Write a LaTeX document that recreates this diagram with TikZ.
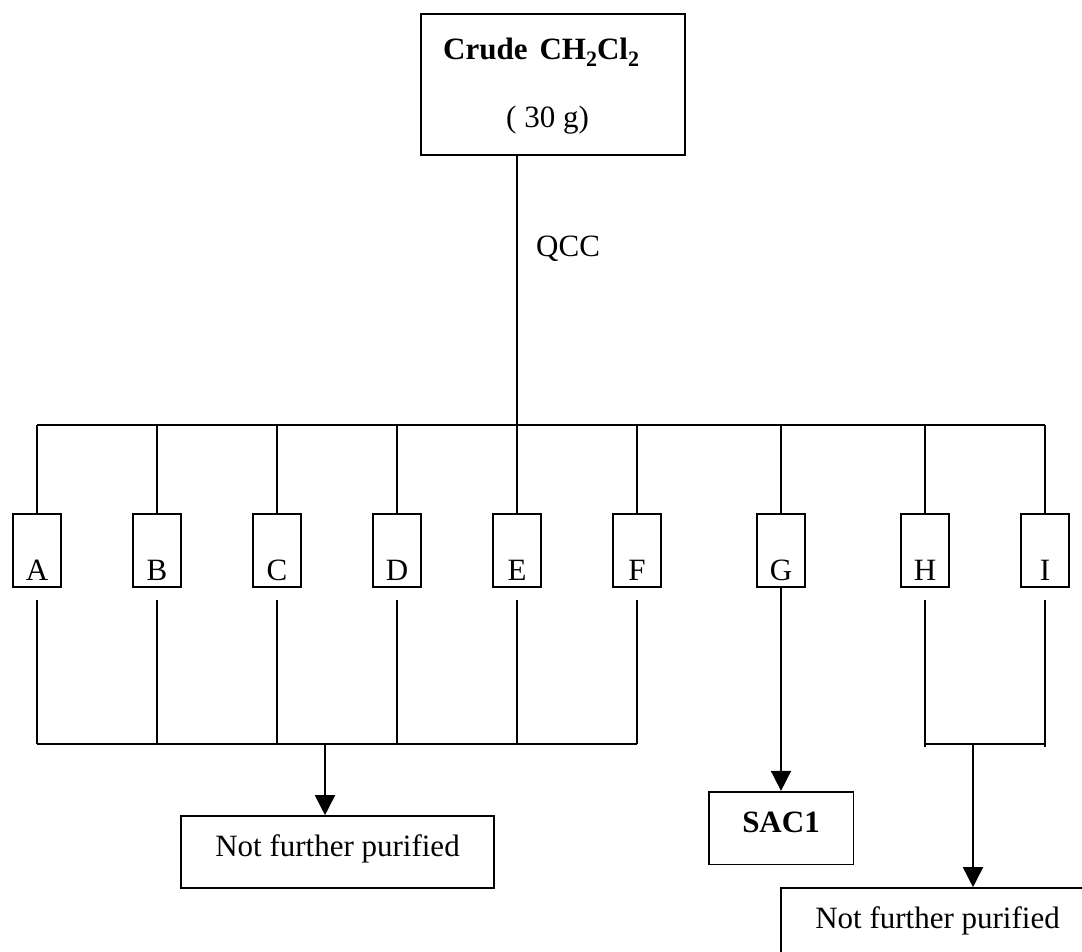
\documentclass[tikz,border=0pt]{standalone}
\usepackage{fontspec}
\setmainfont{Liberation Serif}
\usetikzlibrary{arrows.meta}
% lowered, smaller digit for chemical formulas
\newcommand\chemsub[1]{\raisebox{-7pt}{\fontsize{22}{22}\selectfont #1}}
\begin{document}
\begin{tikzpicture}[x=1pt,y=-1pt,
  every node/.style={font=\fontsize{31}{37}\selectfont},
  wire/.style={line width=1.6pt},
  arr/.style={wire,-{Triangle[length=20pt,width=20pt]}},
  boxed/.style={draw,line width=1.6pt,inner sep=0pt},
  fraction/.style={boxed,minimum width=48pt,minimum height=72.5pt},
  result/.style={boxed,minimum width=313pt,minimum height=72pt,text height=22pt,text depth=14pt},
  lbl/.style={inner sep=0pt,anchor=base west}]
\clip (0,0) rectangle (1082,952);

% crude extract
\node[boxed,minimum width=264pt,minimum height=141pt] (crude) at (553,84.5) {};
\node[lbl,font=\fontsize{31}{37}\selectfont\bfseries] (crudetxt) at (443,60)
  {Crude\hspace{12pt}CH\chemsub{2}Cl\chemsub{2}};
\node[lbl] (mass) at (506,128) {( 30 g)};

% column chromatography split
\coordinate (split) at (517,425);
\draw[wire] (crude.south -| split) -- (split);
\node[lbl] (qcc) at (536,257) {QCC};

% fractions A--I
\foreach \n/\x in {A/37,B/157,C/277,D/397,E/517,F/637,G/781,H/925,I/1045}{
  \node[fraction,label={[name=t\n,anchor=base,yshift=7pt,inner sep=0pt]south:\n}]
    (f\n) at (\x,550.5) {};
}
\draw[wire] (fA.north |- split) -- (fI.north |- split);
\foreach \n in {A,B,C,D,E,F,G,H,I}
  \draw[wire] (f\n.north |- split) -- (f\n.north);

% fractions A--F combined
\coordinate (lowbar) at (0,744);
\coordinate (lowbarlong) at (0,747);
\foreach \n in {A,B,C,D,E,F}
  \draw[wire] ([yshift=-12pt]f\n.south) -- (f\n.south |- lowbar);
\draw[wire] (fA.south |- lowbar) -- (fF.south |- lowbar);
\coordinate (joinL) at (325,744);
\node[result] (restL) at (337.5,852) {Not further purified};
\draw[arr] (joinL) -- (joinL |- restL.north);

% fraction G gives SAC1
\node[boxed,minimum width=144.6pt,minimum height=72.6pt,text height=22pt,text depth=12.6pt,
  font=\fontsize{31}{37}\selectfont\bfseries] (sac) at (781,828) {SAC1};
\draw[arr] (fG.south) -- (sac.north);

% fractions H and I combined
\foreach \n in {H,I}
  \draw[wire] ([yshift=-12pt]f\n.south) -- (f\n.south |- lowbarlong);
\draw[wire] (fH.south |- lowbar) -- (fI.south |- lowbar);
\coordinate (joinR) at (973,744);
\node[result] (restR) at (937.5,924) {Not further purified};
\draw[arr] (joinR) -- (joinR |- restR.north);
\end{tikzpicture}
\end{document}
